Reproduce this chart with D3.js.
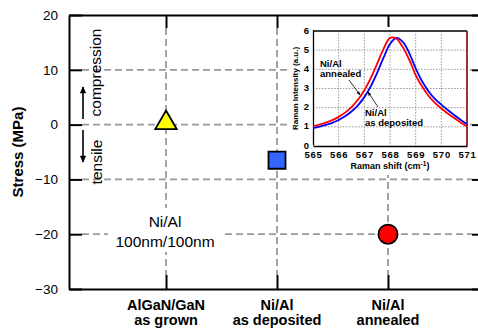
<!DOCTYPE html>
<meta charset="utf-8">
<html lang="en">
<head>
<script src="https://d3js.org/d3.v7.min.js"></script>
<style>
  body { margin: 0; background: #fff; }
  text { font-family: "Liberation Sans", Arial, sans-serif; fill: #000; }
  .axis path, .axis line { stroke: #000; stroke-width: 2; }
  .axis text { font-size: 13.5px; }
  .inset .axis path, .inset .axis line { stroke-width: 1.3; }
  .inset .axis text { font-size: 9.5px; font-weight: bold; }
</style>
</head>
<body>
<script>

// stress data
var samples = ['AlGaN/GaN|as grown', 'Ni/Al|as deposited', 'Ni/Al|annealed'];
var stress = [0.3, -6.5, -20];
var yTicks = [20, 10, 0, -10, -20, -30];
var gridY = [10, 0, -10, -20];

// inset raman spectra
var shift = [565, 565.25, 565.5, 565.75, 566, 566.25, 566.5, 566.75, 567, 567.25, 567.5, 567.75,
             568, 568.25, 568.5, 568.75, 569, 569.25, 569.5, 569.75, 570, 570.25, 570.5, 570.75, 571];
var annealed = [1.03, 1.12, 1.22, 1.35, 1.52, 1.74, 2.03, 2.41, 2.91, 3.54, 4.30, 5.07,
                5.64, 5.60, 5.15, 4.50, 3.70, 3.10, 2.62, 2.25, 1.96, 1.70, 1.46, 1.23, 1.02];
var deposited = [0.93, 1.01, 1.10, 1.21, 1.36, 1.55, 1.80, 2.12, 2.55, 3.11, 3.82, 4.61,
                 5.32, 5.64, 5.43, 4.85, 4.05, 3.38, 2.86, 2.46, 2.16, 1.88, 1.62, 1.37, 1.13];
var insetXTicks = [565, 566, 567, 568, 569, 570, 571];
var insetYTicks = [0, 1, 2, 3, 4, 5, 6];

var W = 478, H = 329;
var pLeft = 69, pRight = 485, pTop = 15, pBottom = 289;

var svg = d3.select('body').append('svg')
    .attr('width', W)
    .attr('height', H);

var defs = svg.append('defs');
defs.append('marker')
    .attr('id', 'head')
    .attr('viewBox', '0 0 10 10')
    .attr('refX', 9).attr('refY', 5)
    .attr('markerWidth', 10).attr('markerHeight', 7)
    .attr('markerUnits', 'userSpaceOnUse')
    .attr('orient', 'auto')
    .append('path').attr('d', 'M0,0.5L10,5L0,9.5z').attr('fill', '#000');
defs.append('marker')
    .attr('id', 'smallhead')
    .attr('viewBox', '0 0 10 10')
    .attr('refX', 9).attr('refY', 5)
    .attr('markerWidth', 6).attr('markerHeight', 4)
    .attr('markerUnits', 'userSpaceOnUse')
    .attr('orient', 'auto')
    .append('path').attr('d', 'M0,1L10,5L0,9z').attr('fill', '#000');

var xScale = d3.scalePoint().domain(samples).range([pLeft, pRight]).padding(0.874);
var yScale = d3.scaleLinear().domain([-30, 20]).range([pBottom, pTop]);

// dashed grid
var grid = svg.append('g')
    .attr('stroke', '#999')
    .attr('stroke-width', 1.8)
    .attr('stroke-dasharray', '7,4');
grid.selectAll('.hg').data(gridY).enter().append('line')
    .attr('x1', pLeft + 13).attr('x2', pRight - 13)
    .attr('y1', function(d) { return yScale(d); })
    .attr('y2', function(d) { return yScale(d); });
grid.selectAll('.vg').data(samples).enter().append('line')
    .attr('x1', function(d) { return xScale(d); })
    .attr('x2', function(d) { return xScale(d); })
    .attr('y1', pTop + 13).attr('y2', pBottom - 14);

// axes on all four sides, ticks inward
svg.append('g').attr('class', 'axis')
    .attr('transform', 'translate(' + pLeft + ',0)')
    .call(d3.axisLeft(yScale).tickValues(yTicks).tickSizeInner(-13).tickSizeOuter(0).tickPadding(11));
svg.append('g').attr('class', 'axis')
    .attr('transform', 'translate(' + pRight + ',0)')
    .call(d3.axisRight(yScale).tickValues(yTicks).tickSizeInner(-13).tickSizeOuter(0).tickFormat(''));
svg.append('g').attr('class', 'axis')
    .attr('transform', 'translate(0,' + pBottom + ')')
    .call(d3.axisBottom(xScale).tickSizeInner(-14).tickSizeOuter(0).tickFormat(''));
svg.append('g').attr('class', 'axis')
    .attr('transform', 'translate(0,' + pTop + ')')
    .call(d3.axisTop(xScale).tickSizeInner(-13).tickSizeOuter(0).tickFormat(''));

// category labels, two lines each
var cat = svg.append('g').selectAll('.cat').data(samples).enter().append('text')
    .attr('text-anchor', 'middle')
    .style('font-size', '14.5px')
    .style('font-weight', 'bold');
cat.append('tspan')
    .attr('x', function(d) { return xScale(d); })
    .attr('y', 310)
    .text(function(d) { return d.split('|')[0]; });
cat.append('tspan')
    .attr('x', function(d) { return xScale(d); })
    .attr('y', 325)
    .text(function(d) { return d.split('|')[1]; });

// y label
svg.append('text')
    .attr('transform', 'translate(23,' + ((pTop + pBottom) / 2) + ') rotate(-90)')
    .attr('text-anchor', 'middle')
    .style('font-size', '15px')
    .style('font-weight', 'bold')
    .text('Stress (MPa)');

// compression / tensile
svg.append('text')
    .attr('transform', 'translate(101,72.5) rotate(-90)')
    .attr('text-anchor', 'middle')
    .style('font-size', '15.5px')
    .text('compression');
svg.append('text')
    .attr('transform', 'translate(102,162) rotate(-90)')
    .attr('text-anchor', 'middle')
    .style('font-size', '15.5px')
    .text('tensile');
svg.append('line')
    .attr('x1', 83).attr('y1', 119).attr('x2', 83).attr('y2', 87)
    .attr('stroke', '#000').attr('stroke-width', 1.6)
    .attr('marker-end', 'url(#head)');
svg.append('line')
    .attr('x1', 83).attr('y1', 130).attr('x2', 83).attr('y2', 162)
    .attr('stroke', '#000').attr('stroke-width', 1.6)
    .attr('marker-end', 'url(#head)');

// Ni/Al 100nm/100nm note
svg.append('rect')
    .attr('x', 108).attr('y', 208).attr('width', 115).attr('height', 44)
    .attr('fill', '#fff');
svg.append('text')
    .attr('x', 165).attr('y', 227)
    .attr('text-anchor', 'middle')
    .style('font-size', '15.5px')
    .text('Ni/Al');
svg.append('text')
    .attr('x', 165).attr('y', 247)
    .attr('text-anchor', 'middle')
    .style('font-size', '15.5px')
    .text('100nm/100nm');

// ---- inset ----
var inset = svg.append('g').attr('class', 'inset');
inset.append('rect')
    .attr('x', 288).attr('y', 27).attr('width', 182).attr('height', 148)
    .attr('fill', '#fff');

var ix = d3.scaleLinear().domain([565, 571]).range([313, 467]);
var iy = d3.scaleLinear().domain([0, 6]).range([146, 31]);

var igrid = inset.append('g')
    .attr('stroke', '#999')
    .attr('stroke-width', 1)
    .attr('stroke-dasharray', '1.5,1.5');
igrid.selectAll('.v').data(insetXTicks.slice(1, -1)).enter().append('line')
    .attr('x1', function(d) { return ix(d); }).attr('x2', function(d) { return ix(d); })
    .attr('y1', iy(6)).attr('y2', iy(0));
igrid.selectAll('.h').data(insetYTicks.slice(1, -1)).enter().append('line')
    .attr('y1', function(d) { return iy(d); }).attr('y2', function(d) { return iy(d); })
    .attr('x1', ix(565)).attr('x2', ix(571));

// frame: top black, right dark red
inset.append('line')
    .attr('x1', ix(565)).attr('x2', ix(571)).attr('y1', iy(6)).attr('y2', iy(6))
    .attr('stroke', '#000').attr('stroke-width', 1.3);
inset.append('line')
    .attr('x1', ix(571)).attr('x2', ix(571)).attr('y1', iy(6)).attr('y2', iy(0))
    .attr('stroke', '#800000').attr('stroke-width', 1.6);

inset.append('g').attr('class', 'axis')
    .attr('transform', 'translate(' + ix(565) + ',-1)')
    .call(d3.axisLeft(iy).tickValues(insetYTicks).tickSize(0).tickPadding(4).tickFormat(d3.format('d')));
inset.append('g').attr('class', 'axis')
    .attr('transform', 'translate(0,' + iy(0) + ')')
    .call(d3.axisBottom(ix).tickValues(insetXTicks).tickSize(0).tickPadding(5).tickFormat(d3.format('d')))
    .selectAll('text').style('letter-spacing', '0.8px');

var line = d3.line()
    .x(function(d) { return ix(d[0]); })
    .y(function(d) { return iy(d[1]); })
    .curve(d3.curveCatmullRom);
inset.append('path')
    .attr('d', line(d3.zip(shift, deposited)))
    .attr('fill', 'none').attr('stroke', '#0000ff').attr('stroke-width', 1.8);
inset.append('path')
    .attr('d', line(d3.zip(shift, annealed)))
    .attr('fill', 'none').attr('stroke', '#ff0000').attr('stroke-width', 1.8);

inset.append('text')
    .attr('transform', 'translate(298,' + ((iy(0) + iy(6)) / 2) + ') rotate(-90)')
    .attr('text-anchor', 'middle')
    .style('font-size', '8px').style('font-weight', 'bold')
    .text('Raman Intensity (a.u.)');
var xt = inset.append('text')
    .attr('x', 390).attr('y', 169)
    .attr('text-anchor', 'middle')
    .style('font-size', '9px').style('font-weight', 'bold');
xt.append('tspan').text('Raman shift (cm');
xt.append('tspan').attr('dy', -3).style('font-size', '6.5px').text('-1');
xt.append('tspan').attr('dy', 3).text(')');

// annotations
var note = inset.append('g').style('font-size', '9.5px').style('font-weight', 'bold');
note.append('text').attr('x', 320).attr('y', 67).text('Ni/Al');
note.append('text').attr('x', 320).attr('y', 77).text('annealed');
note.append('text').attr('x', 365).attr('y', 116).text('Ni/Al');
note.append('text').attr('x', 365).attr('y', 126).text('as deposited');
inset.append('line')
    .attr('x1', 349).attr('y1', 80).attr('x2', 360).attr('y2', 95)
    .attr('stroke', '#000').attr('stroke-width', 0.8)
    .attr('marker-end', 'url(#smallhead)');
inset.append('line')
    .attr('x1', 378).attr('y1', 107).attr('x2', 368).attr('y2', 92)
    .attr('stroke', '#000').attr('stroke-width', 0.8)
    .attr('marker-end', 'url(#smallhead)');

// markers on top
var shapes = [d3.symbolTriangle, d3.symbolSquare, d3.symbolCircle];
var sizes = [200, 290, 290];
var fills = ['#ffff00', '#3366ff', '#ff0000'];
svg.append('g').selectAll('path').data(samples).enter().append('path')
    .attr('transform', function(d, i) {
        return 'translate(' + xScale(d) + ',' + yScale(stress[i]) + ')';
    })
    .attr('d', function(d, i) { return d3.symbol().type(shapes[i]).size(sizes[i])(); })
    .attr('fill', function(d, i) { return fills[i]; })
    .attr('stroke', '#000')
    .attr('stroke-width', 1.8);

</script>
</body>
</html>
